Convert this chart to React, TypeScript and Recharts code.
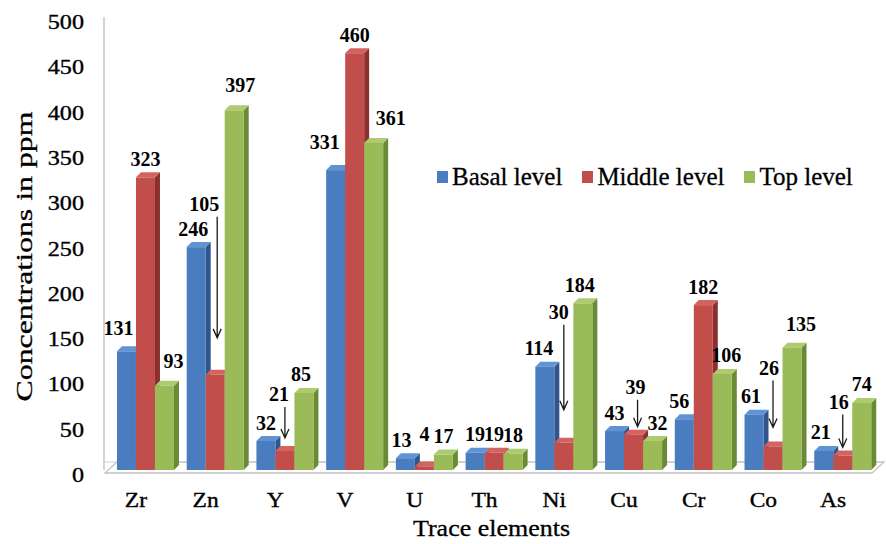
import React from 'react';
import { BarChart, Bar, XAxis, YAxis, Legend, LabelList } from 'recharts';

const CATEGORIES = ['Zr', 'Zn', 'Y', 'V', 'U', 'Th', 'Ni', 'Cu', 'Cr', 'Co', 'As'];
const BASAL = [131, 246, 32, 331, 13, 19, 114, 43, 56, 61, 21];
const MIDDLE = [323, 105, 21, 460, 4, 19, 30, 39, 182, 26, 16];
const TOP = [93, 397, 85, 361, 17, 18, 184, 32, 106, 135, 74];
const Y_TICKS = [0, 50, 100, 150, 200, 250, 300, 350, 400, 450, 500];
const SERIES = [
  { key: 'basal', name: 'Basal level' },
  { key: 'middle', name: 'Middle level' },
  { key: 'top', name: 'Top level' },
];

const data = CATEGORIES.map((el, i) => ({ el, basal: BASAL[i], middle: MIDDLE[i], top: TOP[i] }));

const W = 886;
const H = 544;
const MARGIN = { top: 17, right: 9, left: 0, bottom: 0 };
const Y_W = 104;
const X_H = 74;
const FONT = '"Liberation Serif", "Times New Roman", serif';

const FACE: Record<string, { front: string; side: string; top: string }> = {
  basal: { front: '#4a7dc0', side: '#30558c', top: '#5f93d6' },
  middle: { front: '#c24e4b', side: '#8a302e', top: '#d4635f' },
  top: { front: '#9bbb59', side: '#6a8a36', top: '#aecb6e' },
};

// hand placement of the value labels (offsets from the default spot above the bar)
const NUDGE: Record<string, { dx?: number; lift?: number; arrow?: { dx: number; end: number } }> = {
  'basal-Zr': { dx: -8, lift: 23 },
  'basal-Zn': { dx: -3 },
  'basal-V': { dx: -11, lift: 28 },
  'basal-U': { dx: -4 },
  'basal-Ni': { dx: -6 },
  'basal-Cr': { dx: -5 },
  'basal-Co': { dx: -3 },
  'basal-As': { dx: -3 },
  'middle-Zn': { dx: -11, lift: 170, arrow: { dx: 2, end: 37 } },
  'middle-Y': { dx: -6, lift: 56, arrow: { dx: 0, end: 13 } },
  'middle-U': { lift: 32 },
  'middle-Ni': { dx: -5, lift: 130, arrow: { dx: 0, end: 33 } },
  'middle-Cu': { dx: 2, lift: 47, arrow: { dx: 4, end: 8 } },
  'middle-Co': { dx: -4, lift: 78, arrow: { dx: 0, end: 19 } },
  'middle-As': { dx: -4, lift: 53, arrow: { dx: 0, end: 8 } },
  'top-Zr': { dx: 9, lift: 24 },
  'top-Zn': { dx: 6, lift: 25 },
  'top-Y': { dx: -3 },
  'top-V': { dx: 17, lift: 24 },
  'top-Ni': { dx: -3 },
  'top-Cu': { dx: 5 },
  'top-Cr': { dx: 4 },
  'top-Co': { dx: 9, lift: 23 },
};

const DEPTH = 5;

const bar3D = (key: string) => (props: any) => {
  const { x, y, width, height } = props;
  if (height == null || width == null) return <g />;
  const c = FACE[key];
  const d = DEPTH;
  const side = `${x + width},${y} ${x + width + d},${y - d} ${x + width + d},${y + height - d} ${x + width},${y + height}`;
  const top = `${x},${y} ${x + d},${y - d} ${x + width + d},${y - d} ${x + width},${y}`;
  return (
    <g>
      <polygon points={side} fill={c.side} />
      <polygon points={top} fill={c.top} />
      <rect x={x} y={y} width={width} height={height} fill={c.front} />
    </g>
  );
};

const makeLabel = (key: string) => (p: any) => {
  const vb = p.viewBox || p;
  const x = vb.x ?? p.x;
  const y = vb.y ?? p.y;
  const w = vb.width ?? p.width;
  const cat = CATEGORIES[p.index];
  const n = NUDGE[`${key}-${cat}`] || {};
  const cx = x + w / 2;
  const cy = y - (n.lift ?? 18);
  return (
    <g>
      <text
        x={cx + (n.dx ?? 0)}
        y={cy + 6.5}
        textAnchor="middle"
        fontFamily={FONT}
        fontWeight="bold"
        fontSize={20}
        fill="#000"
      >
        {p.value}
      </text>
      {n.arrow && (
        <path
          d={`M${cx + n.arrow.dx},${cy + 12} L${cx + n.arrow.dx},${y - n.arrow.end} M${cx + n.arrow.dx - 4},${y - n.arrow.end - 9} L${cx + n.arrow.dx},${y - n.arrow.end} L${cx + n.arrow.dx + 4},${y - n.arrow.end - 9}`}
          stroke="#1a1a1a"
          strokeWidth={1.3}
          fill="none"
        />
      )}
    </g>
  );
};

const XTick = (p: any) => (
  <text
    transform={`translate(${p.x - 9},${p.y + 37}) scale(1.12,1)`}
    textAnchor="middle"
    fontFamily={FONT}
    fontSize={21}
    fill="#000"
    stroke="#000"
    strokeWidth={0.35}
  >
    {p.payload.value}
  </text>
);

const YTick = (p: any) => (
  <text
    transform={`translate(${p.x},${p.y + 12}) scale(1.15,1)`}
    textAnchor="end"
    fontFamily={FONT}
    fontSize={21}
    fill="#000"
    stroke="#000"
    strokeWidth={0.35}
  >
    {p.payload.value}
  </text>
);

const YTitle = (p: any) => {
  const vb = p.viewBox;
  const cx = vb.x + 32;
  const cy = vb.y + vb.height / 2 + 13;
  return (
    <text
      x={cx}
      y={cy}
      transform={`rotate(-90 ${cx} ${cy})`}
      textAnchor="middle"
      fontFamily={FONT}
      fontSize={24}
      textLength={290}
      lengthAdjust="spacingAndGlyphs"
      fill="#000"
      stroke="#000"
      strokeWidth={0.3}
    >
      Concentrations in ppm
    </text>
  );
};

const XTitle = (p: any) => {
  const vb = p.viewBox;
  return (
    <text
      x={vb.x + vb.width / 2 + 1}
      y={vb.y + 66}
      textAnchor="middle"
      fontFamily={FONT}
      fontSize={23}
      textLength={157}
      lengthAdjust="spacingAndGlyphs"
      fill="#000"
      stroke="#000"
      strokeWidth={0.3}
    >
      Trace elements
    </text>
  );
};

const LegendBox = () => (
  <div
    style={{
      display: 'flex',
      alignItems: 'center',
      whiteSpace: 'nowrap',
      fontFamily: FONT,
      fontSize: 25,
      lineHeight: '25px',
      color: '#000',
      WebkitTextStroke: '0.3px #000',
    }}
  >
    {SERIES.map((s) => (
      <div key={s.key} style={{ display: 'flex', alignItems: 'center', marginRight: 20 }}>
        <span style={{ display: 'inline-block', width: 11, height: 12, background: FACE[s.key].front, marginRight: 4 }} />
        <span>{s.name}</span>
      </div>
    ))}
  </div>
);

// back wall edge and floor of the 3D plot
const plotLeft = Y_W;
const plotBottom = H - MARGIN.bottom - X_H;
const plotRight = W - MARGIN.right;
const Floor = () => (
  <svg width={W} height={H} style={{ position: 'absolute', left: 0, top: 0 }}>
    <polygon
      points={`${plotLeft + 1},${plotBottom + 3} ${plotRight - 5},${plotBottom + 3} ${plotRight + 7},${plotBottom - 8} ${plotLeft + 13},${plotBottom - 8}`}
      fill="#fff"
      stroke="#c4c4c4"
      strokeWidth={1.3}
    />
    <line x1={plotLeft + 1} y1={plotBottom - 8} x2={plotRight + 7} y2={plotBottom - 8} stroke="#d0d0d0" strokeWidth={1} />
  </svg>
);

export default function App() {
  return (
    <div style={{ position: 'relative', width: W, height: H, background: '#fff' }}>
      <style>{`body{margin:0}`}</style>
      <Floor />
      <div style={{ position: 'absolute', left: 0, top: 0 }}>
        <BarChart width={W} height={H} data={data} margin={MARGIN} barCategoryGap="10%" barGap={0}>
          <XAxis
            dataKey="el"
            height={X_H}
            padding={{ left: 6, right: 0 }}
            axisLine={false}
            tickLine={false}
            tickSize={0}
            tickMargin={0}
            interval={0}
            tick={<XTick />}
            label={{ content: <XTitle /> }}
          />
          <YAxis
            width={Y_W}
            domain={[0, 500]}
            ticks={Y_TICKS}
            interval={0}
            axisLine={{ stroke: '#bdbdbd', strokeWidth: 1.3 }}
            tickLine={false}
            tickSize={0}
            tickMargin={20}
            tick={<YTick />}
            label={{ content: <YTitle /> }}
          />
          <Legend
            layout="horizontal"
            verticalAlign="middle"
            align="center"
            content={<LegendBox />}
            wrapperStyle={{ top: 164, left: 437, width: 'auto' }}
          />
          {SERIES.map((s) => (
            <Bar
              key={s.key}
              dataKey={s.key}
              name={s.name}
              fill={FACE[s.key].front}
              shape={bar3D(s.key)}
              isAnimationActive={false}
            >
              <LabelList dataKey={s.key} content={makeLabel(s.key)} />
            </Bar>
          ))}
        </BarChart>
      </div>
    </div>
  );
}
